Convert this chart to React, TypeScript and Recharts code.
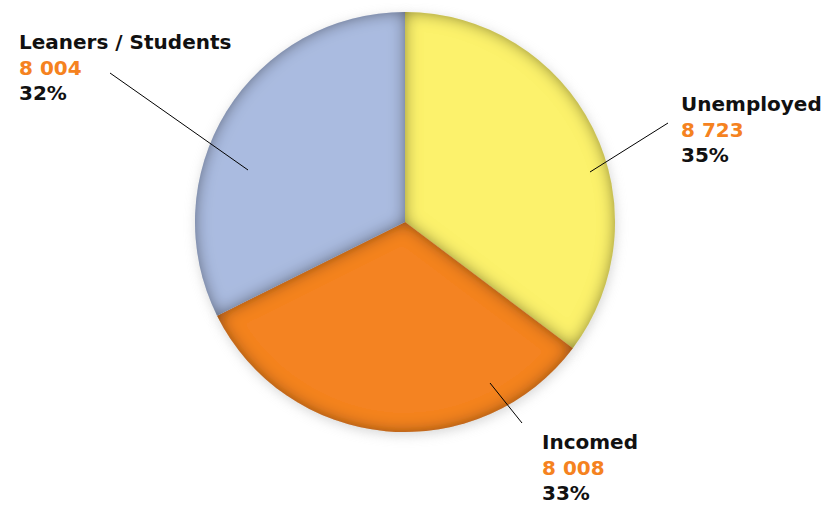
import { PieChart, Pie, Cell } from 'recharts';

const categories = ['Unemployed', 'Incomed', 'Leaners / Students'];
const counts = [8723, 8008, 8004];
const countLabels = ['8 723', '8 008', '8 004'];
const percentLabels = ['35%', '33%', '32%'];

const COLORS = ['#FCF26C', '#F48322', '#AABBE0'];
const NUMBER_COLOR = '#F58220';
const FONT = '"DejaVu Sans", sans-serif';

// where each label block sits, relative to the pie centre (text anchor, leader start, leader end)
const LABEL_LAYOUT = [
  { tx: 276, ty: -111, x1: 185, y1: -50, x2: 263, y2: -99 },
  { tx: 137, ty: 227, x1: 85, y1: 161, x2: 117, y2: 201 },
  { tx: -386, ty: -173, x1: -157, y1: -52, x2: -295, y2: -149 },
];

const data = categories.map((name, i) => ({ name, value: counts[i] }));

const renderLabel = (props: any) => {
  const { cx, cy, index } = props;
  const l = LABEL_LAYOUT[index];
  const x = cx + l.tx;
  const y = cy + l.ty;
  return (
    <g key={`lbl-${index}`}>
      <line x1={cx + l.x1} y1={cy + l.y1} x2={cx + l.x2} y2={cy + l.y2} stroke="#000" strokeWidth={1} />
      <text x={x} y={y} fontFamily={FONT} fontWeight="bold" fontSize={20} textAnchor="start">
        <tspan x={x} dy={0} fill="#111">{categories[index]}</tspan>
        <tspan x={x} dy={25.5} fill={NUMBER_COLOR}>{countLabels[index]}</tspan>
        <tspan x={x} dy={25.5} fill="#111">{percentLabels[index]}</tspan>
      </text>
    </g>
  );
};

export default function App() {
  return (
    <div style={{ position: 'absolute', left: 0, top: 0, background: '#fff' }}>
      <PieChart width={834} height={506}>
        <defs>
          <filter id="bevel" x="-15%" y="-15%" width="130%" height="130%">
            <feComponentTransfer in="SourceAlpha" result="inv">
              <feFuncA type="table" tableValues="1 0" />
            </feComponentTransfer>
            <feGaussianBlur in="inv" stdDeviation="8" result="blur" />
            <feFlood floodColor="#1e1e10" floodOpacity="0.85" result="col" />
            <feComposite in="col" in2="blur" operator="in" result="shade" />
            <feComposite in="shade" in2="SourceAlpha" operator="in" result="inner" />
            <feMerge>
              <feMergeNode in="SourceGraphic" />
              <feMergeNode in="inner" />
            </feMerge>
          </filter>
          <filter id="drop" x="-20%" y="-20%" width="140%" height="140%">
            <feGaussianBlur stdDeviation="6" />
          </filter>
        </defs>
        <Pie
          data={data}
          dataKey="value"
          cx={401}
          cy={220}
          outerRadius={210}
          startAngle={90}
          endAngle={-270}
          stroke="none"
          fill="#bbb"
          isAnimationActive={false}
          label={false}
          labelLine={false}
          legendType="none"
          style={{ filter: 'url(#drop)', opacity: 0.6 }}
        />
        <Pie
          data={data}
          dataKey="value"
          cx={400}
          cy={217}
          outerRadius={210}
          startAngle={90}
          endAngle={-270}
          stroke="none"
          isAnimationActive={false}
          label={renderLabel}
          labelLine={false}
        >
          {data.map((d, i) => (
            <Cell key={d.name} fill={COLORS[i]} filter="url(#bevel)" />
          ))}
        </Pie>
      </PieChart>
    </div>
  );
}
